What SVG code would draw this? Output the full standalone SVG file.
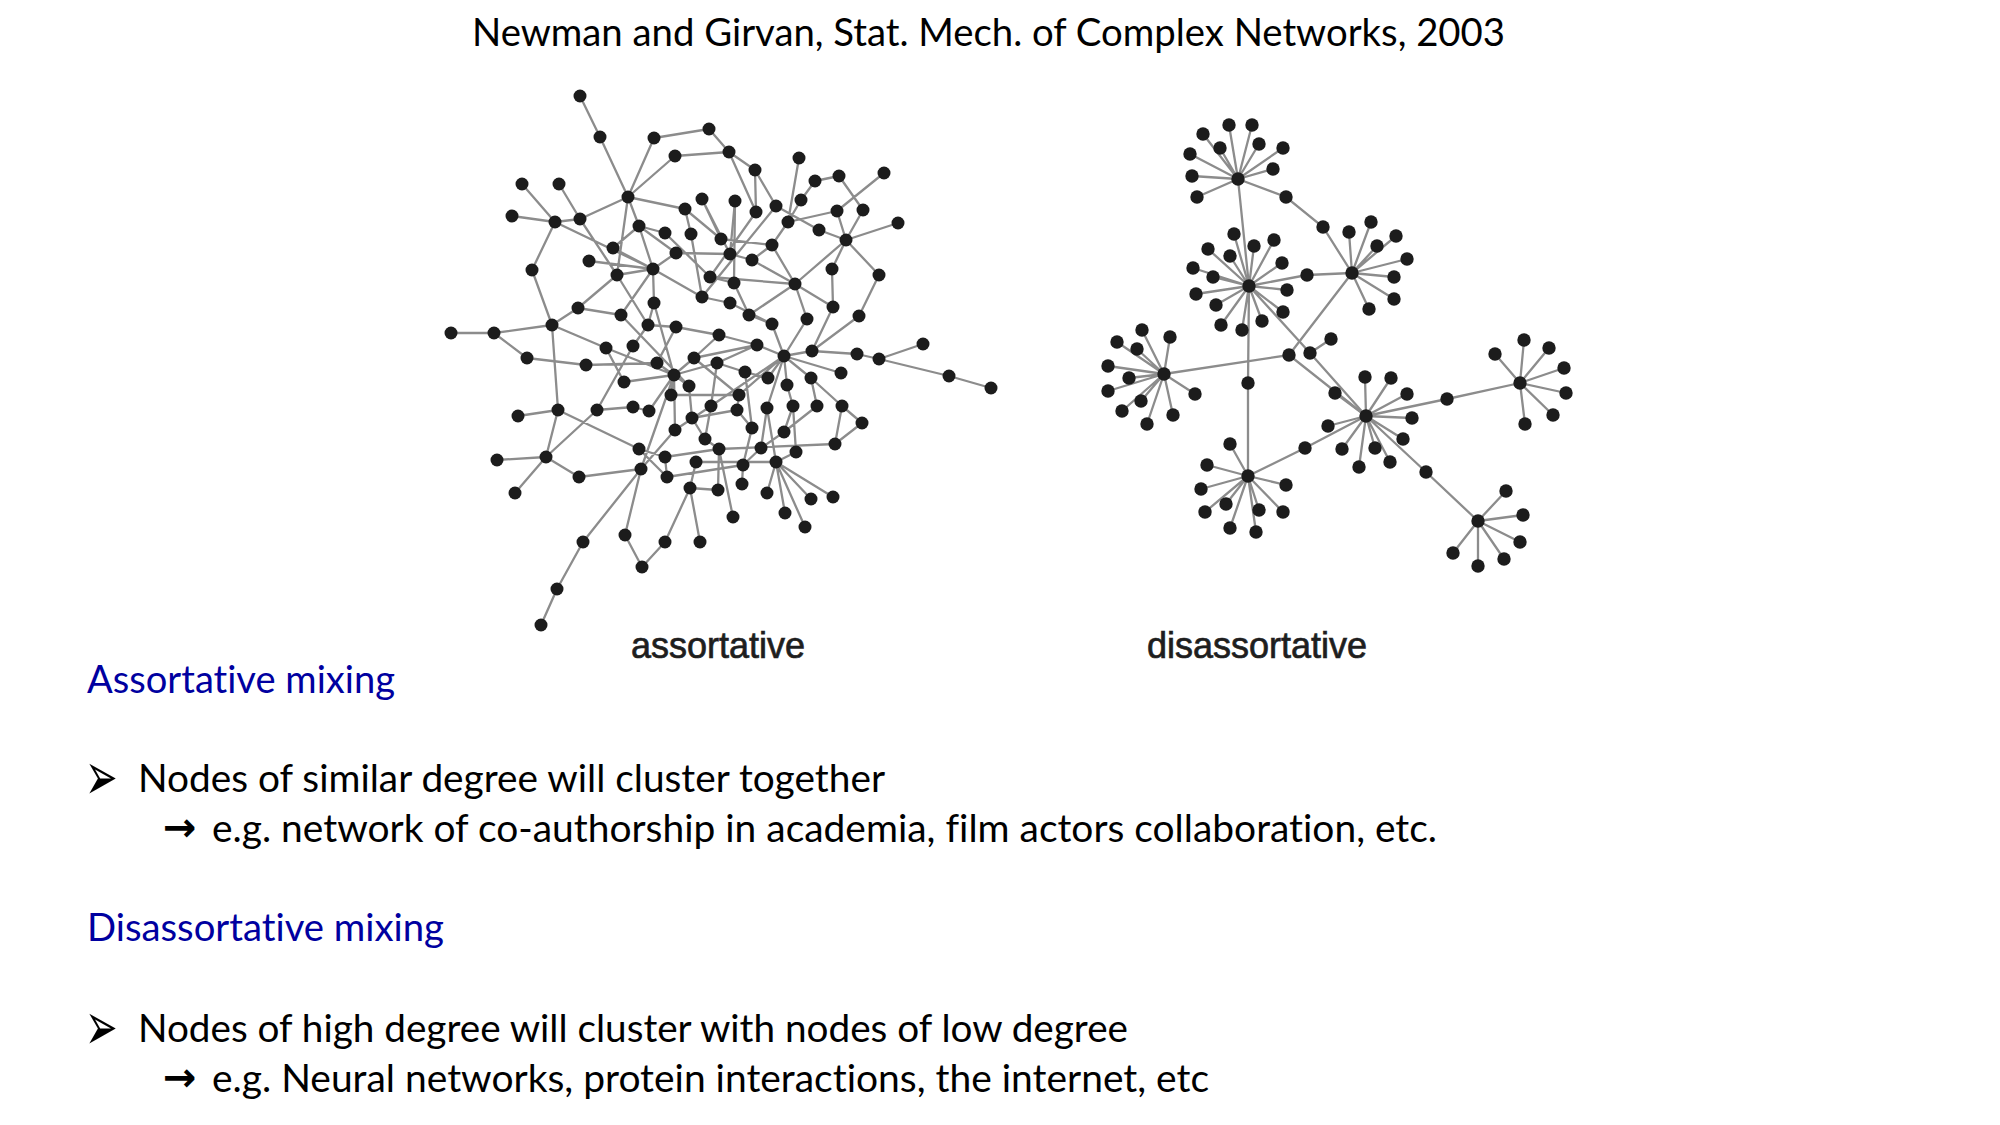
<svg xmlns="http://www.w3.org/2000/svg" width="2000" height="1125" viewBox="0 0 2000 1125">
<style>
.t{font-family:Lato,"Open Sans","Liberation Sans",sans-serif;font-size:38.5px;fill:#000;font-variant-ligatures:none;font-feature-settings:"liga" 0}
.h{font-family:Lato,"Open Sans","Liberation Sans",sans-serif;font-size:38.5px;fill:#0000A0;font-variant-ligatures:none;font-feature-settings:"liga" 0}
.lbl{font-family:"Liberation Sans",Arial,sans-serif;font-size:36px;fill:#1e1e1e;stroke:#1e1e1e;stroke-width:0.7}
.sym{font-family:"DejaVu Sans",sans-serif;fill:#000}
.e{stroke:#8c8c8c;stroke-width:2.3;fill:none;stroke-linecap:round}
.n circle{fill:#1c1c1c}
</style>
<rect width="2000" height="1125" fill="#fff"/>
<text class="t" x="472" y="46" textLength="1033" lengthAdjust="spacingAndGlyphs">Newman and Girvan, Stat. Mech. of Complex Networks, 2003</text>

<g id="assortative">
<g id="assortative-edges" class="e">
<path d="M580 96L600 137M600 137L628 197M628 197L654 138M654 138L709 129M709 129L729 152M628 197L675 156M675 156L729 152M628 197L685 209M628 197L580 219M580 219L555 222M522 184L555 222M512 216L555 222M559 184L580 219M555 222L532 270M532 270L552 325M555 222L653 269M628 197L617 275M580 219L617 275M628 197L639 226M639 226L653 269M639 226L665 233M589 261L653 269M617 275L653 269M653 269L676 253M653 269L654 303M653 269L621 315M653 269L702 297M617 275L578 308M578 308L552 325M578 308L621 315M552 325L494 333M451 333L494 333M494 333L527 358M552 325L606 348M552 325L558 410M617 275L648 325M685 209L721 239M702 199L730 254M639 226L676 253M676 253L730 254M613 248L653 269M613 248L639 226M710 277L734 283M702 297L730 303M654 303L648 325M648 325L676 327M676 327L719 335M719 335L694 358M633 346L648 325M685 209L691 234M665 233L710 277M702 199L721 239M735 201L734 283M691 234L702 297"/>
<path d="M729 152L755 170M755 170L776 206M729 152L756 212M756 212L710 277M799 158L788 222M815 181L839 176M815 181L801 200M839 176L863 210M863 210L846 240M884 173L837 211M837 211L788 222M837 211L846 240M846 240L898 223M846 240L879 275M846 240L819 230M819 230L776 206M846 240L795 284M846 240L832 269M879 275L859 316M859 316L812 351M795 284L833 307M795 284L807 319M752 260L795 284M833 307L812 351M749 315L772 324M772 324L784 356M807 319L784 356M801 200L788 222M788 222L772 245M772 245L752 260M730 254L752 260M710 277L795 284M772 245L795 284M795 284L749 315M784 356L812 351M812 351L857 354M857 354L879 359M879 359L923 344M879 359L949 376M949 376L991 388M832 269L833 307M721 239L772 245M734 283L749 315M730 303L772 324M776 206L702 297M755 170L756 212M735 201L730 254"/>
<path d="M784 356L841 373M784 356L767 408M784 356L768 378M784 356L757 345M784 356L787 385M784 356L811 378M811 378L842 406M842 406L862 423M842 406L835 444M862 423L835 444M835 444L719 449M817 406L784 432M793 406L784 432M784 432L761 448M776 462L833 497M776 462L811 499M776 462L805 527M776 462L785 513M776 462L767 493M776 462L796 452M776 462L767 408M719 449L718 490M719 449L733 517M705 439L719 449M743 465L742 484M743 465L752 428M752 428L745 372M739 395L737 410M737 410L752 428M711 406L705 439M717 363L745 372M745 372L768 378M757 345L717 363M796 452L793 406M761 448L743 465M739 395L784 356M711 406L784 356M787 385L793 406M817 406L811 378M719 335L757 345M694 358L757 345M767 408L761 448"/>
<path d="M527 358L586 365M606 348L674 375M586 365L657 363M633 346L597 410M674 375L657 363M674 375L694 358M674 375L624 382M674 375L689 386M674 375L671 395M674 375L641 469M674 375L717 363M674 375L654 303M689 386L692 418M633 407L597 410M633 407L649 411M597 410L546 457M558 410L518 416M558 410L546 457M558 410L639 449M546 457L497 460M546 457L515 493M546 457L579 477M579 477L641 469M641 469L583 542M583 542L557 589M557 589L541 625M641 469L625 535M625 535L642 567M642 567L665 542M665 542L690 488M690 488L700 542M690 488L718 490M690 488L696 462M639 449L665 457M665 457L667 477M641 469L675 430M675 430L711 406M692 418L705 439M696 462L776 462M649 411L674 375M624 382L606 348M671 395L739 395M639 449L667 477M667 477L743 465M665 457L719 449M692 418L737 410M675 430L674 375M657 363L676 327M694 358L739 395M717 363L711 406M689 386L621 315"/>
</g>
<g id="assortative-nodes" class="n">
<circle cx="580" cy="96" r="6.5"/><circle cx="600" cy="137" r="6.5"/><circle cx="654" cy="138" r="6.5"/><circle cx="709" cy="129" r="6.5"/><circle cx="675" cy="156" r="6.5"/><circle cx="729" cy="152" r="6.5"/><circle cx="628" cy="197" r="6.5"/><circle cx="522" cy="184" r="6.5"/><circle cx="559" cy="184" r="6.5"/><circle cx="512" cy="216" r="6.5"/><circle cx="555" cy="222" r="6.5"/><circle cx="580" cy="219" r="6.5"/><circle cx="685" cy="209" r="6.5"/><circle cx="702" cy="199" r="6.5"/><circle cx="735" cy="201" r="6.5"/><circle cx="639" cy="226" r="6.5"/><circle cx="665" cy="233" r="6.5"/><circle cx="691" cy="234" r="6.5"/><circle cx="721" cy="239" r="6.5"/><circle cx="613" cy="248" r="6.5"/><circle cx="676" cy="253" r="6.5"/><circle cx="730" cy="254" r="6.5"/><circle cx="589" cy="261" r="6.5"/><circle cx="653" cy="269" r="6.5"/><circle cx="617" cy="275" r="6.5"/><circle cx="532" cy="270" r="6.5"/><circle cx="710" cy="277" r="6.5"/><circle cx="734" cy="283" r="6.5"/><circle cx="702" cy="297" r="6.5"/><circle cx="730" cy="303" r="6.5"/><circle cx="654" cy="303" r="6.5"/><circle cx="578" cy="308" r="6.5"/><circle cx="621" cy="315" r="6.5"/><circle cx="648" cy="325" r="6.5"/><circle cx="676" cy="327" r="6.5"/><circle cx="552" cy="325" r="6.5"/><circle cx="719" cy="335" r="6.5"/><circle cx="451" cy="333" r="6.5"/><circle cx="494" cy="333" r="6.5"/><circle cx="606" cy="348" r="6.5"/><circle cx="633" cy="346" r="6.5"/><circle cx="527" cy="358" r="6.5"/><circle cx="694" cy="358" r="6.5"/>
<circle cx="755" cy="170" r="6.5"/><circle cx="799" cy="158" r="6.5"/><circle cx="815" cy="181" r="6.5"/><circle cx="839" cy="176" r="6.5"/><circle cx="884" cy="173" r="6.5"/><circle cx="756" cy="212" r="6.5"/><circle cx="776" cy="206" r="6.5"/><circle cx="801" cy="200" r="6.5"/><circle cx="837" cy="211" r="6.5"/><circle cx="863" cy="210" r="6.5"/><circle cx="898" cy="223" r="6.5"/><circle cx="788" cy="222" r="6.5"/><circle cx="819" cy="230" r="6.5"/><circle cx="846" cy="240" r="6.5"/><circle cx="772" cy="245" r="6.5"/><circle cx="752" cy="260" r="6.5"/><circle cx="832" cy="269" r="6.5"/><circle cx="879" cy="275" r="6.5"/><circle cx="795" cy="284" r="6.5"/><circle cx="833" cy="307" r="6.5"/><circle cx="859" cy="316" r="6.5"/><circle cx="749" cy="315" r="6.5"/><circle cx="772" cy="324" r="6.5"/><circle cx="807" cy="319" r="6.5"/><circle cx="757" cy="345" r="6.5"/><circle cx="784" cy="356" r="6.5"/><circle cx="812" cy="351" r="6.5"/><circle cx="857" cy="354" r="6.5"/><circle cx="879" cy="359" r="6.5"/><circle cx="923" cy="344" r="6.5"/><circle cx="949" cy="376" r="6.5"/><circle cx="991" cy="388" r="6.5"/>
<circle cx="717" cy="363" r="6.5"/><circle cx="745" cy="372" r="6.5"/><circle cx="768" cy="378" r="6.5"/><circle cx="787" cy="385" r="6.5"/><circle cx="811" cy="378" r="6.5"/><circle cx="841" cy="373" r="6.5"/><circle cx="739" cy="395" r="6.5"/><circle cx="711" cy="406" r="6.5"/><circle cx="737" cy="410" r="6.5"/><circle cx="767" cy="408" r="6.5"/><circle cx="793" cy="406" r="6.5"/><circle cx="817" cy="406" r="6.5"/><circle cx="842" cy="406" r="6.5"/><circle cx="862" cy="423" r="6.5"/><circle cx="835" cy="444" r="6.5"/><circle cx="752" cy="428" r="6.5"/><circle cx="784" cy="432" r="6.5"/><circle cx="705" cy="439" r="6.5"/><circle cx="719" cy="449" r="6.5"/><circle cx="761" cy="448" r="6.5"/><circle cx="796" cy="452" r="6.5"/><circle cx="743" cy="465" r="6.5"/><circle cx="776" cy="462" r="6.5"/><circle cx="718" cy="490" r="6.5"/><circle cx="742" cy="484" r="6.5"/><circle cx="767" cy="493" r="6.5"/><circle cx="811" cy="499" r="6.5"/><circle cx="833" cy="497" r="6.5"/><circle cx="733" cy="517" r="6.5"/><circle cx="785" cy="513" r="6.5"/><circle cx="805" cy="527" r="6.5"/>
<circle cx="586" cy="365" r="6.5"/><circle cx="657" cy="363" r="6.5"/><circle cx="674" cy="375" r="6.5"/><circle cx="689" cy="386" r="6.5"/><circle cx="624" cy="382" r="6.5"/><circle cx="671" cy="395" r="6.5"/><circle cx="633" cy="407" r="6.5"/><circle cx="649" cy="411" r="6.5"/><circle cx="597" cy="410" r="6.5"/><circle cx="558" cy="410" r="6.5"/><circle cx="518" cy="416" r="6.5"/><circle cx="692" cy="418" r="6.5"/><circle cx="675" cy="430" r="6.5"/><circle cx="639" cy="449" r="6.5"/><circle cx="665" cy="457" r="6.5"/><circle cx="696" cy="462" r="6.5"/><circle cx="546" cy="457" r="6.5"/><circle cx="497" cy="460" r="6.5"/><circle cx="641" cy="469" r="6.5"/><circle cx="667" cy="477" r="6.5"/><circle cx="579" cy="477" r="6.5"/><circle cx="690" cy="488" r="6.5"/><circle cx="515" cy="493" r="6.5"/><circle cx="583" cy="542" r="6.5"/><circle cx="625" cy="535" r="6.5"/><circle cx="665" cy="542" r="6.5"/><circle cx="700" cy="542" r="6.5"/><circle cx="642" cy="567" r="6.5"/><circle cx="557" cy="589" r="6.5"/><circle cx="541" cy="625" r="6.5"/>
</g>
<text class="lbl" x="631" y="658">assortative</text>
</g>

<g id="disassortative">
<g id="disassortative-edges" class="e">
<path d="M1238 179L1229 125M1238 179L1252 125M1238 179L1203 134M1238 179L1220 148M1238 179L1259 144M1238 179L1283 148M1238 179L1190 154M1238 179L1273 169M1238 179L1192 176M1238 179L1197 197M1238 179L1286 197L1323 227L1352 273M1238 179L1249 286"/>
<path d="M1249 286L1234 234M1249 286L1208 249M1249 286L1254 246M1249 286L1274 240M1249 286L1230 256M1249 286L1282 263M1249 286L1193 268M1249 286L1213 277M1249 286L1287 290M1249 286L1196 294M1249 286L1216 305M1249 286L1283 312M1249 286L1221 325M1249 286L1242 330M1249 286L1262 321M1249 286L1307 275L1352 273M1249 286L1248 383L1248 476M1249 286L1310 353L1366 416M1310 353L1331 339"/>
<path d="M1352 273L1371 222M1352 273L1349 232M1352 273L1377 246M1352 273L1396 236M1352 273L1407 259M1352 273L1394 277M1352 273L1394 299M1352 273L1369 309M1352 273L1289 355M1164 374L1289 355L1366 416"/>
<path d="M1164 374L1117 342M1164 374L1142 330M1164 374L1170 337M1164 374L1137 349M1164 374L1108 366M1164 374L1129 378M1164 374L1108 391M1164 374L1141 401M1164 374L1122 411M1164 374L1147 424M1164 374L1173 415M1164 374L1195 394"/>
<path d="M1248 476L1230 444M1248 476L1207 465M1248 476L1201 489M1248 476L1226 504M1248 476L1205 512M1248 476L1230 528M1248 476L1256 532M1248 476L1259 510M1248 476L1283 512M1248 476L1286 485M1248 476L1305 448L1366 416"/>
<path d="M1366 416L1365 377M1366 416L1391 378M1366 416L1335 393M1366 416L1407 394M1366 416L1412 418M1366 416L1403 439M1366 416L1342 449M1366 416L1375 448M1366 416L1359 467M1366 416L1390 462M1366 416L1328 426M1366 416L1447 399L1520 383M1366 416L1426 472L1478 521"/>
<path d="M1520 383L1524 340M1520 383L1495 354M1520 383L1549 348M1520 383L1564 368M1520 383L1566 393M1520 383L1553 415M1520 383L1525 424M1478 521L1506 491M1478 521L1523 515M1478 521L1520 542M1478 521L1504 559M1478 521L1478 566M1478 521L1453 553"/>
</g>
<g id="disassortative-nodes" class="n">
<circle cx="1238" cy="179" r="6.7"/><circle cx="1229" cy="125" r="6.7"/><circle cx="1252" cy="125" r="6.7"/><circle cx="1203" cy="134" r="6.7"/><circle cx="1220" cy="148" r="6.7"/><circle cx="1259" cy="144" r="6.7"/><circle cx="1283" cy="148" r="6.7"/><circle cx="1190" cy="154" r="6.7"/><circle cx="1273" cy="169" r="6.7"/><circle cx="1192" cy="176" r="6.7"/><circle cx="1197" cy="197" r="6.7"/><circle cx="1286" cy="197" r="6.7"/><circle cx="1323" cy="227" r="6.7"/>
<circle cx="1249" cy="286" r="6.7"/><circle cx="1234" cy="234" r="6.7"/><circle cx="1208" cy="249" r="6.7"/><circle cx="1254" cy="246" r="6.7"/><circle cx="1274" cy="240" r="6.7"/><circle cx="1230" cy="256" r="6.7"/><circle cx="1282" cy="263" r="6.7"/><circle cx="1193" cy="268" r="6.7"/><circle cx="1213" cy="277" r="6.7"/><circle cx="1287" cy="290" r="6.7"/><circle cx="1196" cy="294" r="6.7"/><circle cx="1216" cy="305" r="6.7"/><circle cx="1283" cy="312" r="6.7"/><circle cx="1221" cy="325" r="6.7"/><circle cx="1242" cy="330" r="6.7"/><circle cx="1262" cy="321" r="6.7"/><circle cx="1307" cy="275" r="6.7"/><circle cx="1248" cy="383" r="6.7"/><circle cx="1310" cy="353" r="6.7"/><circle cx="1331" cy="339" r="6.7"/>
<circle cx="1352" cy="273" r="6.7"/><circle cx="1371" cy="222" r="6.7"/><circle cx="1349" cy="232" r="6.7"/><circle cx="1377" cy="246" r="6.7"/><circle cx="1396" cy="236" r="6.7"/><circle cx="1407" cy="259" r="6.7"/><circle cx="1394" cy="277" r="6.7"/><circle cx="1394" cy="299" r="6.7"/><circle cx="1369" cy="309" r="6.7"/><circle cx="1289" cy="355" r="6.7"/>
<circle cx="1164" cy="374" r="6.7"/><circle cx="1117" cy="342" r="6.7"/><circle cx="1142" cy="330" r="6.7"/><circle cx="1170" cy="337" r="6.7"/><circle cx="1137" cy="349" r="6.7"/><circle cx="1108" cy="366" r="6.7"/><circle cx="1129" cy="378" r="6.7"/><circle cx="1108" cy="391" r="6.7"/><circle cx="1141" cy="401" r="6.7"/><circle cx="1122" cy="411" r="6.7"/><circle cx="1147" cy="424" r="6.7"/><circle cx="1173" cy="415" r="6.7"/><circle cx="1195" cy="394" r="6.7"/>
<circle cx="1248" cy="476" r="6.7"/><circle cx="1230" cy="444" r="6.7"/><circle cx="1207" cy="465" r="6.7"/><circle cx="1201" cy="489" r="6.7"/><circle cx="1226" cy="504" r="6.7"/><circle cx="1205" cy="512" r="6.7"/><circle cx="1230" cy="528" r="6.7"/><circle cx="1256" cy="532" r="6.7"/><circle cx="1259" cy="510" r="6.7"/><circle cx="1283" cy="512" r="6.7"/><circle cx="1286" cy="485" r="6.7"/><circle cx="1305" cy="448" r="6.7"/>
<circle cx="1366" cy="416" r="6.7"/><circle cx="1365" cy="377" r="6.7"/><circle cx="1391" cy="378" r="6.7"/><circle cx="1335" cy="393" r="6.7"/><circle cx="1407" cy="394" r="6.7"/><circle cx="1412" cy="418" r="6.7"/><circle cx="1403" cy="439" r="6.7"/><circle cx="1342" cy="449" r="6.7"/><circle cx="1375" cy="448" r="6.7"/><circle cx="1359" cy="467" r="6.7"/><circle cx="1390" cy="462" r="6.7"/><circle cx="1328" cy="426" r="6.7"/><circle cx="1447" cy="399" r="6.7"/><circle cx="1426" cy="472" r="6.7"/>
<circle cx="1520" cy="383" r="6.7"/><circle cx="1524" cy="340" r="6.7"/><circle cx="1495" cy="354" r="6.7"/><circle cx="1549" cy="348" r="6.7"/><circle cx="1564" cy="368" r="6.7"/><circle cx="1566" cy="393" r="6.7"/><circle cx="1553" cy="415" r="6.7"/><circle cx="1525" cy="424" r="6.7"/>
<circle cx="1478" cy="521" r="6.7"/><circle cx="1506" cy="491" r="6.7"/><circle cx="1523" cy="515" r="6.7"/><circle cx="1520" cy="542" r="6.7"/><circle cx="1504" cy="559" r="6.7"/><circle cx="1478" cy="566" r="6.7"/><circle cx="1453" cy="553" r="6.7"/>
</g>
<text class="lbl" x="1147" y="658">disassortative</text>
</g>

<g id="text-assortative">
<text class="h" x="87" y="693" textLength="308" lengthAdjust="spacingAndGlyphs">Assortative mixing</text>
<text class="sym" transform="translate(85,800) scale(1,1.75)" font-size="39">➢</text>
<text class="t" x="138" y="792" textLength="747" lengthAdjust="spacingAndGlyphs">Nodes of similar degree will cluster together</text>
<text class="sym" x="163" y="841" font-size="40" font-weight="bold">→</text>
<text class="t" x="212" y="842" textLength="1225" lengthAdjust="spacingAndGlyphs">e.g. network of co-authorship in academia, film actors collaboration, etc.</text>
</g>
<g id="text-disassortative">
<text class="h" x="87" y="941" textLength="357" lengthAdjust="spacingAndGlyphs">Disassortative mixing</text>
<text class="sym" transform="translate(85,1050) scale(1,1.75)" font-size="39">➢</text>
<text class="t" x="138" y="1042" textLength="990" lengthAdjust="spacingAndGlyphs">Nodes of high degree will cluster with nodes of low degree</text>
<text class="sym" x="163" y="1091" font-size="40" font-weight="bold">→</text>
<text class="t" x="212" y="1092" textLength="997" lengthAdjust="spacingAndGlyphs">e.g. Neural networks, protein interactions, the internet, etc</text>
</g>
</svg>
